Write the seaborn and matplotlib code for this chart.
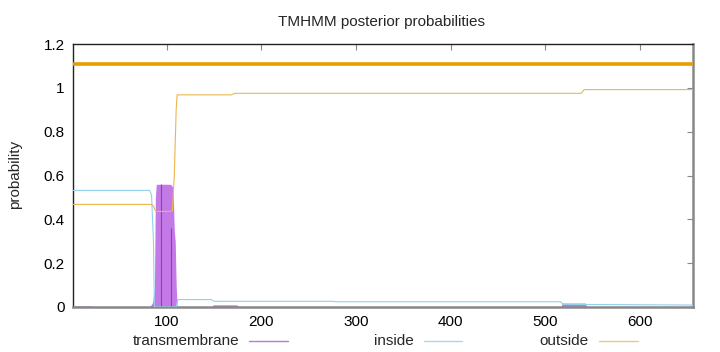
import matplotlib
matplotlib.use("Agg")
import matplotlib.pyplot as plt
from matplotlib.lines import Line2D
from matplotlib.ticker import FormatStrFormatter
import seaborn as sns
import pandas as pd

# ---- data ----
seq_len = 656
topology_level = 1.11

tm_pos = [1, 3, 21, 23, 82, 85, 87, 88, 89, 104, 106, 107, 108, 109, 110, 111,
          147, 149, 174, 176, 516, 518, 542, 544, 656]
tm_val = [0, 0.005, 0.005, 0, 0, 0.02, 0.08, 0.5, 0.56, 0.56, 0.55, 0.5, 0.35,
          0.3, 0.1, 0, 0, 0.01, 0.01, 0, 0, 0.018, 0.018, 0, 0]

inside_pos = [1, 82, 84, 86, 87, 110, 111, 112, 147, 150, 275, 280, 516, 519, 656]
inside_val = [0.532, 0.532, 0.51, 0.3, 0.0, 0.0, 0.02, 0.034, 0.034, 0.026,
              0.026, 0.024, 0.024, 0.012, 0.009]

outside_pos = [1, 84, 86, 88, 90, 104, 106, 108, 110, 111, 168, 172, 538, 541, 656]
outside_val = [0.468, 0.468, 0.46, 0.44, 0.436, 0.436, 0.44, 0.6, 0.9, 0.968,
               0.968, 0.975, 0.975, 0.992, 0.992]

tm_spike_pos = [94, 105]
tm_spike_val = [0.56, 0.36]

x_ticks = [100, 200, 300, 400, 500, 600]
y_ticks = [0, 0.2, 0.4, 0.6, 0.8, 1.0, 1.2]

# ---- style ----
sns.set_theme(style="white")
plt.rcParams['font.family'] = ['Liberation Sans', 'DejaVu Sans']
FS = 11

fig = plt.figure(figsize=(7.2, 3.52), dpi=100)
ax = fig.add_axes([73/720, 1-307/352, (693-73)/720, (307-44)/352])

c_tm_fill = '#c47ae6'
c_tm = '#9a30d8'
c_in = '#93d0ee'
c_out = '#ecb64e'
c_top = '#e69f00'

# transmembrane (impulses appear as filled area)
ax.fill_between(tm_pos, 0, tm_val, color=c_tm_fill, linewidth=0, zorder=2)
ax.vlines(tm_spike_pos, 0, tm_spike_val, color=c_tm, linewidth=0.8, zorder=3)

in_df = pd.DataFrame({'pos': inside_pos, 'val': inside_val})
out_df = pd.DataFrame({'pos': outside_pos, 'val': outside_val})
sns.lineplot(data=in_df, x='pos', y='val', ax=ax, color=c_in, linewidth=0.8, zorder=4)
sns.lineplot(data=out_df, x='pos', y='val', ax=ax, color=c_out, linewidth=0.8, zorder=4)

# predicted topology line
ax.hlines(topology_level, 1, seq_len, color=c_top, linewidth=2.6, zorder=5)

ax.set_xlim(1, seq_len)
ax.set_ylim(0, 1.2)
ax.set_xticks(x_ticks)
ax.set_yticks(y_ticks)
ax.yaxis.set_major_formatter(FormatStrFormatter('%g'))
ax.tick_params(direction='in', length=4, width=0.8, color='#888888',
               top=True, right=True, labelsize=FS, labelcolor='black', pad=6)
ax.set_xlabel('')
ax.set_ylabel('')

for side in ['left', 'top']:
    ax.spines[side].set_color('#222222')
    ax.spines[side].set_linewidth(1.0)
for side in ['right', 'bottom']:
    ax.spines[side].set_color('#888888')
    ax.spines[side].set_linewidth(1.8)

fig.text(15/720, 1-174/352, 'probability', rotation=90, ha='center',
         va='center', fontsize=FS)
fig.text(382/720, 1-22/352, 'TMHMM posterior probabilities', ha='center',
         va='center', fontsize=FS)

# legend below the axis
legend_items = [('transmembrane', '#b87ae2', 239, 249, 288),
                ('inside', '#a8d8f0', 414, 424, 462),
                ('outside', '#f0c878', 589, 599, 638)]
ly = 1 - 341/352
for label, col, tx, x0, x1 in legend_items:
    fig.text(tx/720, ly, label, ha='right', va='center', fontsize=FS)
    fig.add_artist(Line2D([x0/720, x1/720], [ly, ly], color=col, linewidth=1.0,
                          transform=fig.transFigure))

fig.savefig('out.png', dpi=100)
